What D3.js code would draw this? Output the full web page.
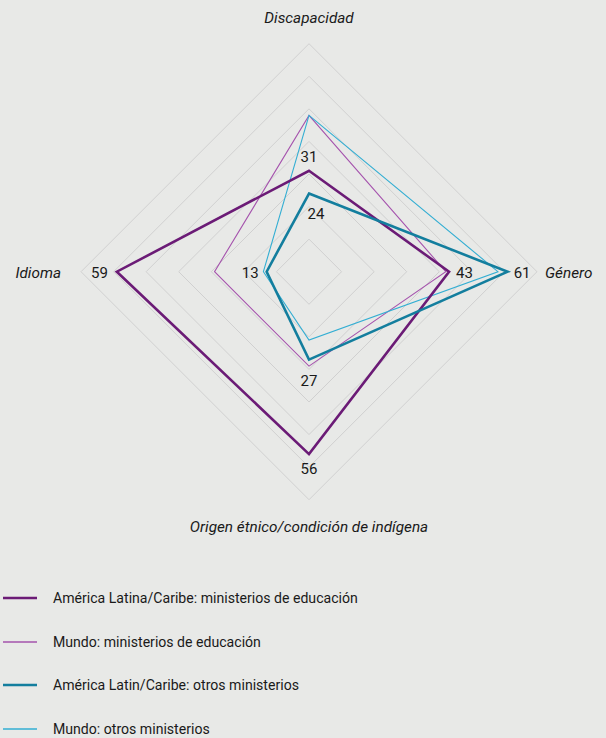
<!DOCTYPE html>
<html>
<head>
<meta charset="utf-8">
<script src="https://cdn.jsdelivr.net/npm/d3@7"></script>
<style>
  body { margin: 0; background: #e8e9e7; }
  svg text { font-family: Roboto, "Noto Sans", sans-serif; fill: #1a1a1a; }
</style>
</head>
<body>
<script>
// categories (clockwise from top)
var axes = ["Discapacidad", "Género", "Origen étnico/condición de indígena", "Idioma"];

// series values, same order as axes
var laEdu      = [31, 43, 56, 59];
var mundoEdu   = [48, 42, 29, 29];
var laOtros    = [24, 61, 27, 13];
var mundoOtros = [48, 58, 21, 14];

var seriesNames = [
  "América Latina/Caribe: ministerios de educación",
  "Mundo: ministerios de educación",
  "América Latin/Caribe: otros ministerios",
  "Mundo: otros ministerios"
];

var ringTicks = [10, 20, 30, 40, 50, 60, 70];

var W = 606, H = 738;
var cx = 309, cy = 271.7;

var series = [
  { name: seriesNames[0], values: laEdu,      color: "#6b1b76", width: 2.6, labels: true },
  { name: seriesNames[1], values: mundoEdu,   color: "#a553ad", width: 1.1, labels: false },
  { name: seriesNames[2], values: laOtros,    color: "#137e9e", width: 2.6, labels: true },
  { name: seriesNames[3], values: mundoOtros, color: "#33aed3", width: 1.1, labels: false }
];

var svg = d3.select("body").append("svg")
  .attr("width", W)
  .attr("height", H);

var r = d3.scaleLinear().domain([0, 70]).range([0, 228]);
var angle = d3.scalePoint().domain(axes).range([0, 2 * Math.PI * 3 / 4]);

function pt(axis, v) {
  var a = angle(axis);
  return [cx + r(v) * Math.sin(a), cy - r(v) * Math.cos(a)];
}

var line = d3.line().curve(d3.curveLinearClosed);

// grid diamonds
svg.append("g").selectAll("path")
  .data(ringTicks)
  .enter().append("path")
  .attr("d", function(t) { return line(axes.map(function(a) { return pt(a, t); })); })
  .attr("fill", "none")
  .attr("stroke", "#d0d0d0")
  .attr("stroke-width", 1);

// series polygons (thin first, thick on top)
var order = [1, 3, 0, 2];
svg.append("g").selectAll("path")
  .data(order.map(function(i) { return series[i]; }))
  .enter().append("path")
  .attr("d", function(s) { return line(axes.map(function(a, i) { return pt(a, s.values[i]); })); })
  .attr("fill", "none")
  .attr("stroke", function(s) { return s.color; })
  .attr("stroke-width", function(s) { return s.width; })
  .attr("stroke-linejoin", "miter");

// value labels for the Latin America series
var labelPos = [
  // laEdu: top above, right, bottom below, left
  [[0, -9, "middle"], [7, 6, "start"], [0, 20, "middle"], [-9, 6, "end"]],
  // laOtros
  [[7, 25, "middle"], [6, 6, "start"], [0, 26, "middle"], [-8, 6, "end"]]
];
[series[0], series[2]].forEach(function(s, k) {
  svg.append("g").selectAll("text")
    .data(axes)
    .enter().append("text")
    .attr("x", function(a, i) { return pt(a, s.values[i])[0] + labelPos[k][i][0]; })
    .attr("y", function(a, i) { return pt(a, s.values[i])[1] + labelPos[k][i][1]; })
    .attr("text-anchor", function(a, i) { return labelPos[k][i][2]; })
    .style("font-size", "15px")
    .text(function(a, i) { return s.values[i]; });
});

// axis titles
var titlePos = [[0, -249, "middle"], [236, 6, "start"], [0, 260, "middle"], [-248, 6, "end"]];
svg.append("g").selectAll("text")
  .data(axes)
  .enter().append("text")
  .attr("x", function(a, i) { return cx + titlePos[i][0]; })
  .attr("y", function(a, i) { return cy + titlePos[i][1]; })
  .attr("text-anchor", function(a, i) { return titlePos[i][2]; })
  .style("font-size", "15.3px")
  .style("font-style", "italic")
  .text(function(a) { return a; });

// legend
var legend = svg.append("g").selectAll("g")
  .data(series)
  .enter().append("g")
  .attr("transform", function(d, i) { return "translate(0," + Math.round(598 + i * 43.7) + ")"; });

legend.append("line")
  .attr("x1", 3).attr("x2", 37)
  .attr("stroke", function(d) { return d.color; })
  .attr("stroke-width", function(d) { return d.width < 2 ? 1.3 : 2.4; });

legend.append("text")
  .attr("x", 53)
  .attr("y", 5)
  .style("font-size", "14.1px")
  .text(function(d) { return d.name; });
</script>
</body>
</html>
